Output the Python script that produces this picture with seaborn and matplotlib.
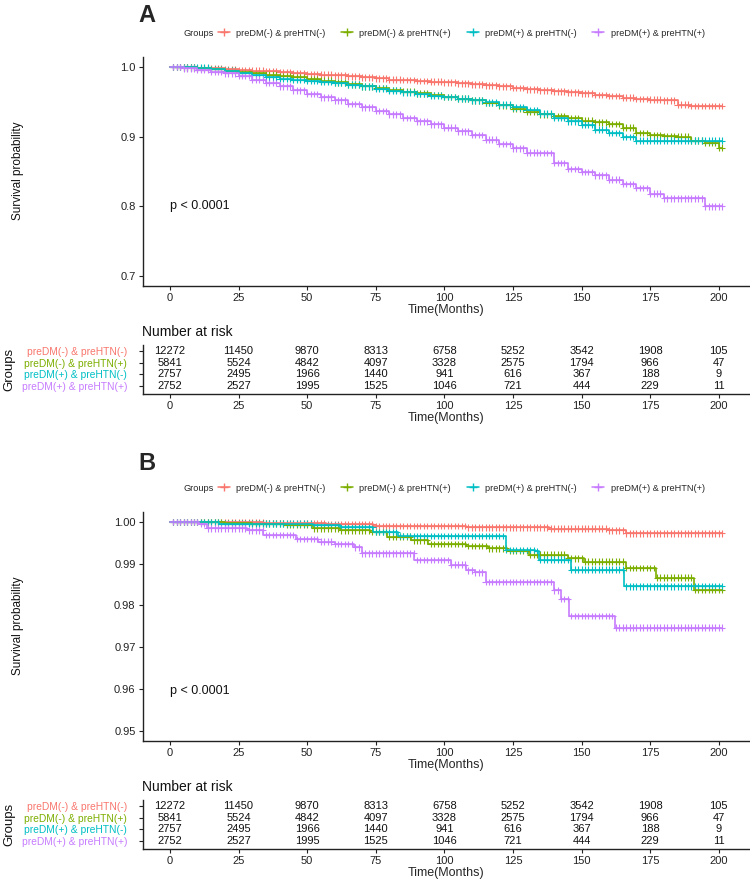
import numpy as np
import pandas as pd
import seaborn as sns
import matplotlib.pyplot as plt
from matplotlib.lines import Line2D

sns.set_theme(style="white")
plt.rcParams['font.family'] = ['Liberation Sans', 'DejaVu Sans']

groups = ['preDM(-) & preHTN(-)', 'preDM(-) & preHTN(+)',
          'preDM(+) & preHTN(-)', 'preDM(+) & preHTN(+)']
colors = ['#F8766D', '#7CAE00', '#00BFC4', '#C77CFF']

months_a = [0, 5, 10, 15, 20, 25, 30, 35, 40, 45, 50, 55, 60, 65, 70, 75, 80, 85, 90, 95,
            100, 105, 110, 115, 120, 125, 130, 135, 140, 145, 150, 155, 160, 165, 170, 175,
            180, 185, 190, 195, 200, 201]
surv_a_nn = [1.000, 0.9995, 0.9985, 0.998, 0.997, 0.996, 0.995, 0.994, 0.993, 0.9915, 0.990,
             0.989, 0.988, 0.9865, 0.985, 0.9835, 0.982, 0.981, 0.980, 0.979, 0.978, 0.9765,
             0.975, 0.9735, 0.972, 0.970, 0.968, 0.9665, 0.965, 0.9635, 0.962, 0.960, 0.958,
             0.956, 0.954, 0.953, 0.952, 0.946, 0.944, 0.944, 0.944, 0.944]
surv_a_np = [1.000, 0.9995, 0.998, 0.9965, 0.995, 0.993, 0.991, 0.989, 0.987, 0.985, 0.983,
             0.9805, 0.978, 0.975, 0.972, 0.9695, 0.967, 0.9645, 0.962, 0.9595, 0.957, 0.9545,
             0.952, 0.9485, 0.945, 0.940, 0.935, 0.932, 0.929, 0.926, 0.923, 0.9205, 0.918,
             0.913, 0.905, 0.902, 0.901, 0.900, 0.894, 0.891, 0.884, 0.884]
surv_a_pn = [1.000, 0.9995, 0.999, 0.997, 0.995, 0.991, 0.988, 0.985, 0.983, 0.9815, 0.980,
             0.9785, 0.977, 0.9745, 0.972, 0.969, 0.966, 0.9635, 0.961, 0.959, 0.957, 0.9545,
             0.952, 0.949, 0.946, 0.942, 0.938, 0.933, 0.927, 0.922, 0.917, 0.910, 0.905,
             0.899, 0.894, 0.894, 0.894, 0.894, 0.894, 0.894, 0.894, 0.894]
surv_a_pp = [1.000, 0.998, 0.996, 0.9935, 0.991, 0.987, 0.982, 0.977, 0.972, 0.9665, 0.961,
             0.9565, 0.952, 0.947, 0.942, 0.937, 0.932, 0.927, 0.922, 0.9175, 0.913, 0.9075,
             0.902, 0.8955, 0.889, 0.883, 0.877, 0.876, 0.862, 0.853, 0.849, 0.844, 0.838,
             0.832, 0.826, 0.818, 0.811, 0.811, 0.811, 0.7995, 0.7995, 0.7995]

# ---- panel B: step change points ----
t_b_nn = [0, 20, 34, 57, 74, 108, 138, 160, 166, 201]
s_b_nn = [1.0, 0.9999, 0.9998, 0.9995, 0.9991, 0.9987, 0.9984, 0.998, 0.9973, 0.9973]
t_b_np = [0, 20, 30, 42, 52, 62, 73, 79, 88, 94, 108, 116, 123, 131, 145, 151, 166, 177, 191, 201]
s_b_np = [1.0, 0.9998, 0.9996, 0.9994, 0.9985, 0.998, 0.9976, 0.9965, 0.9956, 0.9947, 0.9943,
          0.9937, 0.9931, 0.9922, 0.9913, 0.9905, 0.989, 0.9867, 0.9838, 0.9838]
t_b_pn = [0, 18, 52, 62, 74, 83, 122.5, 133, 134.5, 146, 165.5, 201]
s_b_pn = [1.0, 0.9996, 0.9993, 0.9988, 0.9976, 0.9967, 0.9933, 0.9931, 0.991, 0.9886, 0.9846, 0.9846]
t_b_pp = [0, 10.7, 13.6, 28, 34, 46, 54, 60, 67, 70, 89, 102.5, 108, 111, 115, 140, 142.5,
          145.5, 162, 201]
s_b_pp = [1.0, 0.9995, 0.9985, 0.998, 0.9969, 0.9959, 0.9953, 0.9947, 0.9939, 0.9925, 0.9909,
          0.9898, 0.9884, 0.9879, 0.9856, 0.9836, 0.9816, 0.9775, 0.9747, 0.9747]

# censor tick positions (months)
censor_months = [
    1.25, 2.5, 3.75, 5, 6.25, 7.5, 8.75, 10, 11.25, 12.5, 13.75, 15, 16.25, 17.5, 18.75, 20,
    21.25, 22.5, 23.75, 25, 26.25, 27.5, 28.75, 30, 31.25, 32.5, 33.75, 35, 36.25, 37.5, 38.75, 40,
    41.25, 42.5, 43.75, 45, 46.25, 47.5, 48.75, 50, 51.25, 52.5, 53.75, 55, 56.25, 57.5, 58.75, 60,
    61.25, 62.5, 63.75, 65, 66.25, 67.5, 68.75, 70, 71.25, 72.5, 73.75, 75, 76.25, 77.5, 78.75, 80,
    81.25, 82.5, 83.75, 85, 86.25, 87.5, 88.75, 90, 91.25, 92.5, 93.75, 95, 96.25, 97.5, 98.75, 100,
    101.25, 102.5, 103.75, 105, 106.25, 107.5, 108.75, 110, 111.25, 112.5, 113.75, 115, 116.25,
    117.5, 118.75, 120, 121.25, 122.5, 123.75, 125, 126.25, 127.5, 128.75, 130, 131.25, 132.5,
    133.75, 135, 136.25, 137.5, 138.75, 140, 141.25, 142.5, 143.75, 145, 146.25, 147.5, 148.75,
    150, 151.25, 152.5, 153.75, 155, 156.25, 157.5, 158.75, 160, 161.25, 162.5, 163.75, 165,
    166.25, 167.5, 168.75, 170, 171.25, 172.5, 173.75, 175, 176.25, 177.5, 178.75, 180, 181.25,
    182.5, 183.75, 185, 186.25, 187.5, 188.75, 190, 191.25, 192.5, 193.75, 195, 196.25, 197.5,
    198.75, 200, 201]

# ---- number at risk ----
risk_months = [0, 25, 50, 75, 100, 125, 150, 175, 200]
risk_nn = [12272, 11450, 9870, 8313, 6758, 5252, 3542, 1908, 105]
risk_np = [5841, 5524, 4842, 4097, 3328, 2575, 1794, 966, 47]
risk_pn = [2757, 2495, 1966, 1440, 941, 616, 367, 188, 9]
risk_pp = [2752, 2527, 1995, 1525, 1046, 721, 444, 229, 11]
risk_counts = [risk_nn, risk_np, risk_pn, risk_pp]


def curve_frames(times_list, surv_list):
    rows, marks = [], []
    for g, t, s in zip(groups, times_list, surv_list):
        t = np.asarray(t, dtype=float)
        s = np.asarray(s, dtype=float)
        rows += [(g, ti, si) for ti, si in zip(t, s)]
        for c in censor_months:
            if c <= t[-1]:
                idx = np.searchsorted(t, c, side='right') - 1
                marks.append((g, c, s[idx]))
    cols = ['group', 'time', 'surv']
    return pd.DataFrame(rows, columns=cols), pd.DataFrame(marks, columns=cols)


def style_axis(ax):
    sns.despine(ax=ax)
    for side in ['left', 'bottom']:
        ax.spines[side].set_linewidth(1.0)
        ax.spines[side].set_color('#222222')
    ax.tick_params(axis='both', length=3, width=0.8, color='#222222', pad=2,
                   labelsize=8, labelcolor='#222222', left=True, bottom=True)
    ax.set_xlim(-10, 211)
    ax.set_xticks(risk_months)


def draw_panel(ax, times_list, surv_list, ylim, yticks, fmt):
    df, marks = curve_frames(times_list, surv_list)
    sns.lineplot(data=df, x='time', y='surv', hue='group', hue_order=groups, palette=colors,
                 estimator=None, sort=False, drawstyle='steps-post', linewidth=1.2,
                 legend=False, ax=ax)
    sns.scatterplot(data=marks, x='time', y='surv', hue='group', hue_order=groups,
                    palette=colors, marker='+', s=22, linewidth=0.8, legend=False, ax=ax)
    style_axis(ax)
    ax.set_ylim(*ylim)
    ax.set_yticks(yticks)
    ax.set_yticklabels([fmt.format(v) for v in yticks])
    ax.set_xlabel('Time(Months)', fontsize=9, labelpad=1)
    ax.set_ylabel('')


def draw_table(ax):
    for i, counts in enumerate(risk_counts):
        for t, n in zip(risk_months, counts):
            ax.text(t, i, str(n), ha='center', va='center', fontsize=8, color='#111111')
    style_axis(ax)
    ax.set_ylim(3.7, -0.52)
    ax.set_yticks(range(len(groups)))
    ax.set_yticklabels(groups, fontsize=7.4)
    for lab, c in zip(ax.get_yticklabels(), colors):
        lab.set_color(c)
    ax.tick_params(axis='y', pad=8)
    ax.set_xlabel('Time(Months)', fontsize=9, labelpad=1)
    ax.set_ylabel('')


fig = plt.figure(figsize=(7.5, 8.8), dpi=100)
W, H = 750, 880


def box(left, top, right, bottom):
    return [left / W, 1 - bottom / H, (right - left) / W, (bottom - top) / H]


panels = [
    ('A', 0, [months_a] * 4, [surv_a_nn, surv_a_np, surv_a_pn, surv_a_pp],
     (0.685, 1.015), [0.7, 0.8, 0.9, 1.0], '{:.1f}', 0.80, 16),
    ('B', 455, [t_b_nn, t_b_np, t_b_pn, t_b_pp], [s_b_nn, s_b_np, s_b_pn, s_b_pp],
     (0.9475, 1.0025), [0.95, 0.96, 0.97, 0.98, 0.99, 1.00], '{:.2f}', 0.9595, 464),
]

handles = [Line2D([0], [0], color=c, lw=1.1, marker='+', markersize=6, mew=1.0)
           for c in colors]

for tag, off, tl, sl, ylim, yt, fmt, p_y, tag_y in panels:
    ax = fig.add_axes(box(142.5, 56.6 + off, 749, 286 + off))
    draw_panel(ax, tl, sl, ylim, yt, fmt)
    ax.text(0, p_y, 'p < 0.0001', fontsize=9, ha='left', va='center', color='#111111')

    tab = fig.add_axes(box(142.5, 345 + off, 749, 394 + off))
    draw_table(tab)

    fig.text(147 / W, 1 - tag_y / H, tag, fontsize=17, fontweight='bold',
             ha='center', va='center')
    fig.text(184 / W, 1 - (33 + off) / H, 'Groups', fontsize=6.6, ha='left', va='center')
    fig.legend(handles, groups, loc='center left', bbox_to_anchor=(218 / W, 1 - (33 + off) / H),
               ncol=4, frameon=False, fontsize=6.6, handlelength=1.3, handletextpad=0.7,
               columnspacing=1.7, borderpad=0, borderaxespad=0)
    fig.text(18 / W, 1 - (171 + off) / H, 'Survival probability', fontsize=8.5,
             rotation=90, ha='center', va='center', color='#111111')
    fig.text(142 / W, 1 - (332 + off) / H, 'Number at risk', fontsize=10,
             ha='left', va='center', color='#111111')
    fig.text(9 / W, 1 - (369 + off) / H, 'Groups', fontsize=9.5,
             rotation=90, ha='center', va='center', color='#111111')

fig.savefig('out.png', dpi=100)
